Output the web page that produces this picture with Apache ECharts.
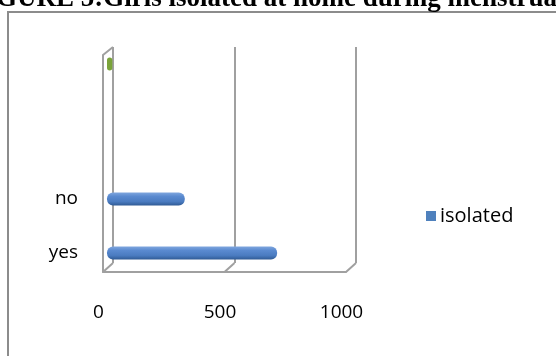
<!DOCTYPE html>
<html>
<head>
<meta charset="utf-8">
<script src="https://cdn.jsdelivr.net/npm/echarts@6/dist/echarts.min.js"></script>
<style>
  html, body { margin: 0; padding: 0; background: #fff; }
  #chart { width: 556px; height: 356px; }
</style>
</head>
<body>
<div id="chart"></div>
<script>
var titleText = 'FIGURE 5:Girls isolated at home during menstruation';
var seriesName = 'isolated';
// 8 slots on the category axis, only two carry a label
var categories = ['yes', '', 'no', '', '', '', '', ''];
var isolatedValues = [700, '-', 320, '-', '-', '-', '-', 22];
var xTicks = [0, 500, 1000];

function fieldsChart(){
	var chart = echarts.init(document.getElementById('chart'));

	var gray = '#a0a0a0';
	var blueBar = new echarts.graphic.LinearGradient(0, 0, 0, 1, [
		{offset: 0, color: '#7fa6de'},
		{offset: 0.3, color: '#5a8ad0'},
		{offset: 0.7, color: '#4a7bc0'},
		{offset: 1, color: '#2f5a94'}
	]);

	var barData = isolatedValues.map(function (v, i) {
		if (i === categories.length - 1) {
			return {value: v, itemStyle: {color: '#7aa33a'}};
		}
		return v;
	});

	var option = {
		animation: false,
		legend: {
			data: [seriesName],
			left: 421,
			top: 201,
			icon: 'rect',
			itemWidth: 10,
			itemHeight: 10,
			itemGap: 4,
			itemStyle: {color: '#4f81bd'},
			textStyle: {fontFamily: 'Open Sans', fontSize: 20, color: '#000', padding: [0, 0, 0, -1]}
		},
		grid: [
			// back wall
			{left: 113, top: 47, width: 243, height: 216},
			// front edge / floor
			{left: 103, top: 55, width: 243, height: 217},
			// bars
			{left: 107, top: 50.5, width: 243, height: 216}
		],
		xAxis: [
			{
				gridIndex: 0, type: 'value', min: 0, max: 1000, interval: 500,
				axisLine: {show: false}, axisTick: {show: false}, axisLabel: {show: false},
				splitLine: {show: true, lineStyle: {color: gray, width: 2}}
			},
			{
				gridIndex: 1, type: 'value', min: 0, max: 1000, interval: 500,
				axisLine: {show: true, lineStyle: {color: gray, width: 2}},
				axisTick: {show: false},
				splitLine: {show: false},
				axisLabel: {
					margin: 31,
					fontFamily: 'Open Sans', fontSize: 19, color: '#000',
					padding: [0, 9, 0, 0],
					customValues: xTicks,
					formatter: function (v) { return String(v); }
				}
			},
			{
				gridIndex: 2, type: 'value', min: 0, max: 1000, interval: 500,
				show: false
			}
		],
		yAxis: [
			{gridIndex: 0, type: 'category', data: categories, show: false},
			{
				gridIndex: 1, type: 'value', min: 0, max: 1,
				axisLine: {show: true, lineStyle: {color: gray, width: 2}},
				axisTick: {show: false}, axisLabel: {show: false}, splitLine: {show: false}
			},
			{
				gridIndex: 2, type: 'category', data: categories,
				axisLine: {show: false}, axisTick: {show: false},
				axisLabel: {margin: 29, fontFamily: 'Open Sans', fontSize: 19, color: '#000'}
			}
		],
		series: [{
			name: seriesName,
			type: 'bar',
			xAxisIndex: 2,
			yAxisIndex: 2,
			barWidth: 13,
			itemStyle: {color: blueBar, borderRadius: 6},
			data: barData
		}],
		graphic: [
			// outer frame of the figure
			{type: 'rect', silent: true, shape: {x: 8, y: 12, width: 600, height: 400},
				style: {fill: null, stroke: '#8c8c8c', lineWidth: 2}},
			{type: 'text', silent: true, left: -31, top: -14,
				style: {text: titleText, fill: '#000', font: 'bold 27px "Liberation Serif"'}},
			// 3D depth edges
			{type: 'line', silent: true, shape: {x1: 103, y1: 55, x2: 113, y2: 47}, style: {stroke: gray, lineWidth: 2}},
			{type: 'line', silent: true, shape: {x1: 103, y1: 272, x2: 113, y2: 263}, style: {stroke: gray, lineWidth: 2}},
			{type: 'line', silent: true, shape: {x1: 224.5, y1: 272, x2: 234.5, y2: 263}, style: {stroke: gray, lineWidth: 2}},
			{type: 'line', silent: true, shape: {x1: 346, y1: 272, x2: 356, y2: 263}, style: {stroke: gray, lineWidth: 2}}
		]
	};

	chart.setOption(option);
}
fieldsChart();
</script>
</body>
</html>
